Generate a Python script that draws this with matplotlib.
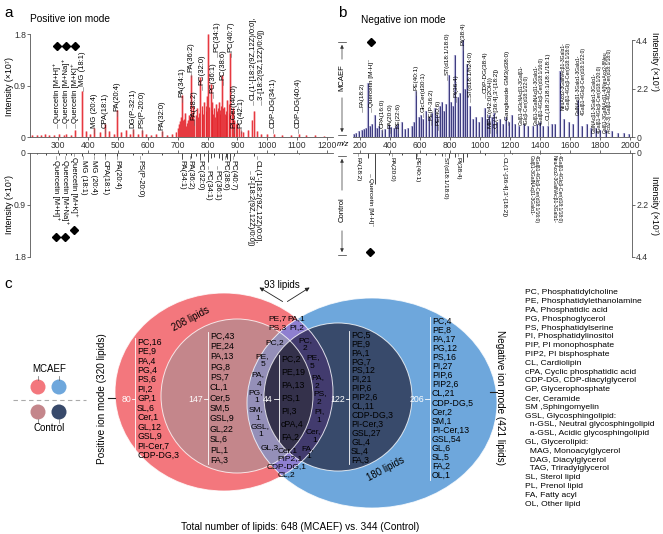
import matplotlib
matplotlib.use('Agg')
import matplotlib.pyplot as plt
from matplotlib.patches import Ellipse, Circle

plt.rcParams['font.family'] = ['Liberation Sans', 'DejaVu Sans']

W, H = 663, 534

# ---- panel a: positive ion mode (m/z, intensity x1e7) ----
pos_mcaef_mz = [212, 228, 241, 256, 270, 285, 303, 318, 325, 341, 357, 379, 393, 405, 420, 440,
                457, 470, 485, 497, 510, 525, 540, 551, 566, 581, 595, 610, 628, 648, 665, 680,
                695, 702, 705, 708, 710, 715, 718, 721, 725, 727, 730, 735, 738, 741, 745, 748,
                752, 756, 760, 765, 768, 772, 776, 780, 782, 786, 788, 793, 796, 798, 802, 806,
                810, 813, 815, 818, 822, 826, 828, 831, 833, 836, 838, 841, 843, 846, 849, 852,
                855, 858, 860, 863, 866, 870, 873, 876, 880, 884, 887, 890, 894, 898, 905, 912,
                920, 935, 948, 955, 965, 980, 1000, 1021, 1050, 1080, 1105, 1130, 1160, 1190]
pos_mcaef_int = [0.03, 0.04, 0.03, 0.05, 0.03, 0.04, 0.06, 0.03, 0.05, 0.04, 0.12, 0.80, 0.10, 0.06, 0.16, 0.08,
                 0.22, 0.10, 0.06, 0.47, 0.08, 0.12, 0.05, 0.14, 0.06, 0.12, 0.05, 0.04, 0.05, 0.10, 0.04, 0.05,
                 0.08, 0.15, 0.22, 0.28, 0.35, 0.73, 0.30, 0.32, 0.42, 0.20, 0.25, 0.30, 0.38, 0.35, 1.08, 0.40,
                 0.55, 0.30, 0.38, 0.50, 0.35, 0.42, 1.05, 0.55, 0.48, 0.40, 0.62, 0.45, 0.55, 0.72, 1.80, 0.52,
                 0.92, 0.48, 0.62, 0.40, 0.50, 0.35, 0.58, 0.42, 0.45, 0.50, 0.62, 0.40, 0.48, 0.55, 1.08, 0.50,
                 0.52, 0.40, 0.45, 0.38, 0.65, 0.58, 0.42, 1.47, 0.45, 0.50, 0.30, 0.28, 0.22, 0.25, 0.15, 0.10,
                 0.08, 0.12, 0.30, 0.45, 0.10, 0.06, 0.05, 0.06, 0.04, 0.03, 0.06, 0.03, 0.03, 0.02]
pos_ctrl_mz = [230, 260, 303, 325, 341, 379, 420, 457, 497, 551, 581, 648, 715, 745, 760, 776, 788,
               802, 810, 822, 838, 849, 860, 866, 876, 890, 955, 1021, 1105]
pos_ctrl_int = [0.02, 0.03, 0.04, 0.03, 0.03, 0.06, 0.04, 0.05, 0.05, 0.03, 0.04, 0.03, 0.10, 0.08, 0.05,
                0.12, 0.06, 0.15, 0.08, 0.07, 0.09, 0.12, 0.07, 0.10, 0.13, 0.05, 0.06, 0.03, 0.02]

# ---- panel b: negative ion mode ----
neg_mcaef_mz = [160, 175, 190, 210, 227, 241, 255, 265, 281, 301, 315, 329, 345, 365, 391, 409, 425, 437,
                452, 480, 500, 520, 545, 560, 575, 590, 605, 620, 640, 660, 680, 700, 715, 730, 745, 760,
                775, 790, 805, 820, 835, 850, 865, 885, 900, 915, 930, 950, 970, 990, 1010, 1030, 1045,
                1060, 1080, 1095, 1110, 1130, 1150, 1170, 1190, 1213, 1230, 1260, 1290, 1320, 1350, 1380,
                1400, 1420, 1450, 1480, 1500, 1533, 1560, 1590, 1620, 1653, 1680, 1710, 1740, 1770, 1800,
                1840, 1880, 1920, 1960, 1990]
neg_mcaef_int = [0.15, 0.20, 0.25, 0.30, 0.35, 0.40, 2.45, 0.50, 0.60, 1.00, 0.40, 0.50, 0.30, 0.35, 0.55,
                 0.45, 0.40, 0.50, 0.60, 0.70, 0.35, 0.40, 0.50, 0.70, 2.10, 0.90, 1.00, 0.80, 1.20, 0.90,
                 1.10, 1.30, 1.00, 1.40, 1.60, 1.20, 1.50, 2.80, 1.60, 1.40, 3.70, 1.80, 2.00, 4.40, 2.20,
                 3.30, 1.40, 0.80, 0.90, 0.70, 0.90, 1.30, 0.80, 1.00, 0.90, 1.10, 0.70, 0.80, 0.60, 0.90,
                 0.70, 1.00, 0.60, 0.50, 0.60, 0.50, 0.50, 0.60, 0.70, 0.50, 0.50, 0.60, 0.60, 3.00, 0.80,
                 0.70, 0.60, 1.70, 0.50, 0.60, 0.40, 0.40, 0.30, 0.30, 0.25, 0.20, 0.20, 0.15]
neg_ctrl_mz = [255, 301, 391, 480, 575, 640, 700, 745, 790, 835, 885, 915, 1030, 1213, 1400, 1533]
neg_ctrl_int = [0.20, 1.30, 0.10, 0.08, 0.25, 0.08, 0.10, 0.12, 0.20, 0.15, 0.40, 0.15, 0.08, 0.06, 0.05, 0.06]

# ---- panel c: lipid class counts ----
pos_only = ['PC,16', 'PE,9', 'PA,4', 'PG,4', 'PS,6', 'PI,2', 'GP,1', 'SL,6', 'Cer,1', 'GL,12',
            'GSL,9', 'PI-Cer,7', 'CDP-DG,3']
pos_ctrl = ['PC,43', 'PE,24', 'PA,13', 'PG,8', 'PS,7', 'CL,1', 'Cer,5', 'SM,5', 'GSL,9', 'GL,22',
            'SL,6', 'PL,1', 'FA,3']
shared_ctrl = ['PC,2', 'PE,19', 'PA,13', 'PS,1', 'PI,3', 'cPA,4', 'FA,2']
neg_ctrl = ['PC,5', 'PE,9', 'PA,1', 'PG,7', 'PS,12', 'PI,21', 'PIP,6', 'PIP2,6', 'CL,11', 'CDP-DG,3',
            'PI-Cer,3', 'GSL,27', 'GL,4', 'SL,4', 'FA,3']
neg_only = ['PC,4', 'PE,8', 'PA,17', 'PG,12', 'PS,16', 'PI,27', 'PIP,6', 'PIP2,6', 'CL,21',
            'CDP-DG,5', 'Cer,2', 'SM,1', 'PI-Cer,13', 'GSL,54', 'GL,6', 'SL,5', 'FA,2', 'OL,1']
region_counts = ['80', '147', '44', '122', '206']
abbrev = ['PC, Phosphatidylcholine', 'PE, Phosphatidylethanolamine', 'PA, Phosphatidic acid',
          'PG, Phosphoglycerol', 'PS, Phosphatidylserine', 'PI, Phosphatidylinositol',
          'PIP, PI monophosphate', 'PIP2, PI bisphosphate', 'CL, Cardiolipin',
          'cPA, Cyclic phosphatidic acid', 'CDP-DG, CDP-diacylglycerol', 'GP, Glycerophosphate',
          'Cer, Ceramide', 'SM ,Sphingomyelin', 'GSL, Glycosphingolipid:',
          '  n-GSL, Neutral glycosphingolipid', '  a-GSL, Acidic glycosphingolipid',
          'GL, Glycerolipid:', '  MAG, Monoacylglycerol', '  DAG, Diacylglycerol',
          '  TAG, Triradylglycerol', 'SL, Sterol lipid', 'PL, Prenol lipid', 'FA, Fatty acyl',
          'OL, Other lipid']

fig = plt.figure(figsize=(W / 100, H / 100), dpi=100)


def px_axes(l, t, r, b):
    return fig.add_axes([l / W, 1 - b / H, (r - l) / W, (b - t) / H])


def style(ax, xs, ys, ylab, side, edge):
    for s in ax.spines.values():
        s.set_visible(False)
    ax.spines[side].set_visible(True)
    ax.spines[edge].set_visible(True)
    for s in (side, edge):
        ax.spines[s].set_linewidth(0.6)
        ax.spines[s].set_color('#555555')
    ax.set_xticks(xs)
    ax.set_yticks(ys)
    ax.set_yticklabels(ylab)
    ax.tick_params(labelsize=6.2, length=2, width=0.5, pad=1, colors='#333333')
    ax.set_facecolor('none')


# panel a spectra (light halo under each line for the dense look)
a_top = px_axes(30, 34, 333, 137)
a_top.vlines(pos_mcaef_mz, 0, pos_mcaef_int, color='#f6a9ad', lw=1.8)
a_top.vlines(pos_mcaef_mz, 0, pos_mcaef_int, color='#e3242b', lw=0.6)
a_top.set_xlim(205, 1220)
a_top.set_ylim(0, 1.8)
style(a_top, range(300, 1201, 100), [0, 0.9, 1.8], ['0', '0.9', '1.8'], 'left', 'bottom')

a_bot = px_axes(30, 153, 333, 257)
a_bot.vlines(pos_ctrl_mz, 0, pos_ctrl_int, color='#222222', lw=0.6)
a_bot.set_xlim(205, 1220)
a_bot.set_ylim(1.8, 0)
style(a_bot, range(300, 1201, 100), [0, 0.9, 1.8], ['0', '0.9', '1.8'], 'left', 'top')
a_bot.xaxis.tick_top()
a_bot.set_xticklabels([])

# panel b spectra
b_top = px_axes(353, 40, 632, 137)
b_top.vlines(neg_mcaef_mz, 0, neg_mcaef_int, color='#b3b1d6', lw=1.6)
b_top.vlines(neg_mcaef_mz, 0, neg_mcaef_int, color='#2a2870', lw=0.6)
b_top.set_xlim(153, 2013)
b_top.set_ylim(0, 4.4)
style(b_top, range(200, 2001, 200), [0, 2.2, 4.4], ['0', '2.2', '4.4'], 'right', 'bottom')
b_top.yaxis.tick_right()

b_bot = px_axes(353, 153, 632, 257)
b_bot.vlines(neg_ctrl_mz, 0, neg_ctrl_int, color='#222222', lw=0.6)
b_bot.set_xlim(153, 2013)
b_bot.set_ylim(4.4, 0)
style(b_bot, range(200, 2001, 200), [0, 2.2, 4.4], ['0', '2.2', '4.4'], 'right', 'top')
b_bot.yaxis.tick_right()
b_bot.xaxis.tick_top()
b_bot.set_xticklabels([])

# overlay in pixel coordinates
ax = fig.add_axes([0, 0, 1, 1])
ax.set_xlim(0, W)
ax.set_ylim(H, 0)
ax.set_axis_off()


def T(x, y, s, fs=6.3, **kw):
    ax.text(x, y, s, fontsize=fs, clip_on=False, **kw)


def up(x, y, s, fs=5.5):
    T(x, y, s, fs, rotation=90, ha='center', va='bottom')
    ax.plot([x, x], [y + 1, y + 5], color='#666666', lw=0.4)


def down(x, y, s, fs=5.5):
    T(x, y, s, fs, rotation=270, ha='center', va='top')
    ax.plot([x, x], [y - 4, y - 1], color='#666666', lw=0.4)


T(4, 13, 'a', 11, va='center')
T(338, 13, 'b', 11, va='center')
T(4, 284, 'c', 11, va='center')
T(30, 19, 'Positive ion mode', 7.3, va='center')
T(361, 20, 'Negative ion mode', 7.3, va='center')
T(10, 86, 'Intensity (×10⁷)', 6.3, rotation=90, ha='center', va='center')
T(10, 205, 'Intensity (×10⁷)', 6.3, rotation=90, ha='center', va='center')
T(655, 62, 'Intensity (×10⁷)', 6.3, rotation=270, ha='center', va='center')
T(655, 205, 'Intensity (×10⁷)', 6.3, rotation=270, ha='center', va='center')
T(343, 145, 'm/z', 5.5, style='italic', ha='center', va='center')

# panel a labels
for x, y, s in [(57, 123, 'Quercetin [M+H]⁺'), (66, 123, 'Quercetin [M+Na]⁺'),
                (75, 123, 'Quercetin [M+K]⁺'), (83, 86, 'MG (18:1)'), (94, 128, 'MG (20:4)'),
                (105, 128, 'CPA(18:1)'), (117, 111, 'PA(20:4)'), (133, 128, 'DG(P-32:1)'),
                (142, 128, 'PS(P-20:0)'), (162, 130, 'PA(32:0)'), (182, 97, 'PA(34:1)'),
                (191, 72, 'PA(36:2)'), (194, 120, 'PA(38:2)'), (202, 85, 'PC(32:0)'),
                (213, 93, 'PC(36:1)'), (217, 52, 'PC(34:1)'), (223, 80, 'PC(38:6)'),
                (231, 52, 'PC(40:7)'), (234, 128, 'PI-Cer(t40:0)'), (241, 128, 'PC(42:1)'),
                (253, 100, "CL(1'-[18:2(9Z,12Z)/0:0],"), (261, 100, "3'-[18:2(9Z,12Z)/0:0])"),
                (273, 128, 'CDP-DG(34:1)'), (298, 128, 'CDP-DG(40:4)')]:
    up(x, y, s)
for x, y, s in [(56, 160, 'Quercetin [M+H]⁺'), (65, 160, 'Quercetin [M+Na]⁺'),
                (74, 157, 'Quercetin [M+K]⁺'), (83, 160, 'MG (18:1)'), (94, 160, 'MG (20:4)'),
                (105, 160, 'CPA(18:1)'), (117, 160, 'PA(20:4)'), (140, 160, 'PS(P-20:0)'),
                (182, 160, 'PA(34:1)'), (190, 160, 'PA(36:2)'), (200, 160, 'PC(32:0)'),
                (208, 170, 'PC(34:1)'), (217, 170, 'PC(36:1)'), (225, 160, 'PC(38:6)'),
                (233, 160, 'PC(40:7)'), (257, 160, "CL(1'-[18:2(9Z,12Z)/0:0],"),
                (250, 175, "3'-[18:2(9Z,12Z)/0:0])")]:
    down(x, y, s)
ax.plot([57, 66, 75], [46, 46, 46], 'kD', ms=4.5)
ax.plot([56, 65, 74], [237, 237, 230], 'kD', ms=4.5)

# panel b labels
for x, y, s in [(362, 107, 'FA(18:2)'), (371, 107, 'Quercetin [M-H]⁻'), (382, 128, 'CPA(16:0)'),
                (390, 128, 'PA(20:0)'), (398, 128, 'PE(22:6)'), (416, 90, 'PE(40:1)'),
                (423, 112, 'GlcCer(d30:1)'), (431, 120, 'PE(P-36:2)'), (438, 125, 'PE(40:6)'),
                (447, 75, 'ST(d18:1/18:0)'), (456, 97, 'PI(36:4)'), (463, 45, 'PI(38:4)'),
                (470, 97, 'ST(d18:1/h24:0)'), (485, 93, 'CDP-DG(38:4)'),
                (490, 128, 'MIPC(t42:0(2OH))'), (496, 128, "CL(1'-[36:4],3'-[18:2])"),
                (508, 120, 'Ganglioside GM3(d38:0)'), (548, 120, 'CL(18:2/18:1/18:1/18:1)')]:
    up(x, y, s, 4.6)
for x, y, s in [(521, 125, 'Galβ1-4GlcNAcβ1-3Galβ1-'), (526, 125, '4Glcβ-Cer(d18:1/22:0)'),
                (536, 125, 'Galβ1-3GalNAcβ1-3Galα1-'), (541, 125, '4Galβ1-4Glcβ-Cer(d18:1/16:0)'),
                (563, 110, 'NeuAcα2-3GalNAcβ1-3Galα1-'), (568, 110, '4Galβ1-4Glcβ-Cer(d18:1/18:0)'),
                (578, 115, 'GalNAcβ1-3Galα1-3Galα1-'), (583, 115, '4Galβ1-4Glcβ-Cer(d18:1/22:0)'),
                (594, 133, 'GalNAcβ1-3Galα1-3Galα1-'), (599, 133, '4Galβ1-4Glcβ-Cer(d18:1/20:0)'),
                (605, 133, 'Galβ1-3GalNAcβ1-4(NeuAcα2-8Neu'),
                (610, 133, 'Acα2-3) Galβ1-4Glcβ-Cer(d18:1/18:0)')]:
    T(x, y, s, 3.6, rotation=90, ha='center', va='bottom')
for x, y, s in [(358, 157, 'FA(18:2)'), (370, 178, 'Quercetin [M-H]⁻'), (392, 157, 'PA(20:0)'),
                (417, 157, 'PE(40:1)'), (445, 157, 'ST(d18:1/18:0)'), (458, 157, 'PI(38:4)'),
                (504, 157, "CL(1'-[36:4],3'-[18:2])")]:
    down(x, y, s, 4.6)
for x, y, s in [(531, 155, 'Galβ1-3GalNAcβ1-3Galα1-'), (536, 155, '4Galβ1-4Glcβ-Cer(d18:1/16:0)'),
                (554, 155, 'NeuAcα2-3GalNAcβ1-3Galα1-'), (559, 155, '4Galβ1-4Glcβ-Cer(d18:1/18:0)')]:
    T(x, y, s, 3.6, rotation=270, ha='center', va='top')
ax.plot([371], [42], 'kD', ms=4.5)
ax.plot([370], [252], 'kD', ms=4.5)

# MCAEF / Control arrows
T(342, 78, 'MCAEF', 5.5, rotation=90, ha='center', va='center')
T(342, 210, 'Control', 5.5, rotation=90, ha='center', va='center')
for y0, y1 in [(62, 42), (95, 135), (193, 156), (228, 255)]:
    ax.annotate('', xy=(342, y1), xytext=(342, y0),
                arrowprops=dict(arrowstyle='-|>', lw=0.5, color='#333333', mutation_scale=5))
    ax.plot([338, 346], [y1, y1], color='#333333', lw=0.5)

# ---- panel c: nested Venn ----
R = dict(xy=(224, 392), width=218, height=198)
r = dict(xy=(237, 396), width=152, height=154)
B = dict(xy=(372, 403), width=250, height=210)
b = dict(xy=(338, 397), width=148, height=148)
pR = ax.add_patch(Ellipse(**R, fc='#f3777d', ec='none'))
pr = ax.add_patch(Ellipse(**r, fc='#c4868b', ec='none'))
ax.add_patch(Ellipse(**B, fc='#6ea7dc', ec='none'))
ax.add_patch(Ellipse(**b, fc='#384a6b', ec='none'))
for geo, clip, col in [(B, pR, '#8e7fd0'), (B, pr, '#948fb8'), (b, pR, '#423b6e'), (b, pr, '#34314b')]:
    p = ax.add_patch(Ellipse(**geo, fc=col, ec='none'))
    p.set_clip_path(clip)
for geo in (R, r, B, b):
    ax.add_patch(Ellipse(**geo, fc='none', ec='white', lw=0.7, alpha=0.8))


def column(x, y0, dy, items, line=True, fs=6.3):
    for i, s in enumerate(items):
        T(x, y0 + i * dy, s, fs, va='center')
    if line:
        ax.plot([x - 2, x - 2], [y0 - 4, y0 + (len(items) - 1) * dy + 4], color='white', lw=0.6)


column(137, 342, 9.44, pos_only)
column(210, 336, 10.35, pos_ctrl)
column(281, 359, 13.0, shared_ctrl)
column(351, 335, 8.95, neg_ctrl)
column(432, 321, 9.1, neg_only)
for (x0, x1), s in zip([(131, 135), (203, 208), (273, 279), (345, 349), (424, 430)], region_counts):
    T(x0, 399, s, 6.3, color='white', ha='right', va='center')
    ax.plot([x0 + 0.5, x1], [399, 399], color='white', lw=0.6)

# small overlap labels
for x, y, s in [(268, 319, 'PE,7'), (287, 319, 'PA,1'), (268, 328, 'PS,3'), (289, 328, 'PI,2'),
                (265, 343, 'PC,2'), (255, 357, 'PE,'), (261, 365, '5'), (251, 375, 'PA,'),
                (257, 384, '4'), (248, 393, 'PG,'), (254, 401, '1'), (249, 410, 'SM,'),
                (255, 418, '1'), (251, 427, 'GSL,'), (258, 435, '1'), (261, 448, 'GL,3'),
                (298, 341, 'PC,'), (303, 349, '2'), (306, 358, 'PE,'), (310, 367, '5'),
                (311, 378, 'PA,'), (315, 386, '2'), (313, 394, 'PS,'), (317, 402, '2'),
                (314, 412, 'PI,'), (316, 421, '1'), (306, 432, 'Cer,'), (312, 440, '1'),
                (301, 449, 'FA,'), (306, 457, '1'), (278, 451, 'Cer,1'), (277, 459, 'PIP2,1'),
                (267, 467, 'CDP-DG,1'), (278, 475, 'CL,2')]:
    T(x, y, s, 6.0, va='center')

T(282, 285, '93 lipids', 7.0, ha='center', va='center')
for tx in (257, 312):
    ax.annotate('', xy=(tx, 286), xytext=(285, 303),
                arrowprops=dict(arrowstyle='-|>', lw=0.6, color='#222222', mutation_scale=6))
T(191, 319, '208 lipids', 7.0, rotation=28, ha='center', va='center')
T(386, 469, '180 lipids', 7.0, rotation=28, ha='center', va='center')
T(102, 399, 'Positive ion mode (320 lipids)', 7.2, rotation=90, ha='center', va='center')
ax.plot([108, 115], [398, 398], color='#222222', lw=0.8)
T(500, 398, 'Negative ion mode (421 lipids)', 7.2, rotation=270, ha='center', va='center')
ax.plot([490, 497], [392, 392], color='#222222', lw=0.8)
T(300, 527, 'Total number of lipids: 648 (MCAEF) vs. 344 (Control)', 7.2, ha='center', va='center')

# legend markers
ax.add_patch(Circle((38, 387), 7.5, fc='#f3777d', ec='none'))
ax.add_patch(Circle((59, 387), 7.5, fc='#6ea7dc', ec='none'))
ax.add_patch(Circle((38, 412), 7.5, fc='#c4868b', ec='none'))
ax.add_patch(Circle((59, 412), 7.5, fc='#384a6b', ec='none'))
ax.plot([13, 86], [399.5, 399.5], color='#aaaaaa', lw=0.8, ls=(0, (4, 3)))
for x in (38, 59):
    ax.plot([x, x], [376, 380], color='#666666', lw=0.5)
    ax.plot([x, x], [419, 423], color='#666666', lw=0.5)
T(49, 369, 'MCAEF', 7.0, ha='center', va='center')
T(49, 428, 'Control', 7.0, ha='center', va='center')

for i, s in enumerate(abbrev):
    T(525, 293 + i * 8.8, s, 6.1, va='center')

fig.savefig('out.png', dpi=100)
